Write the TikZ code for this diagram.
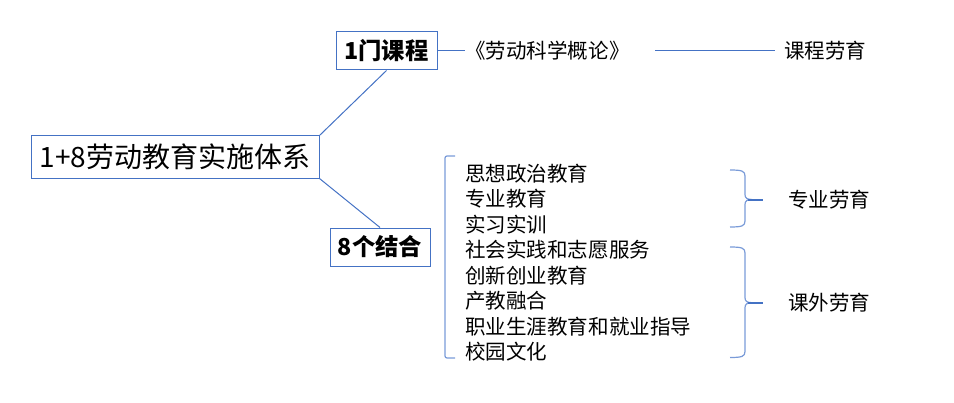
\documentclass[tikz,border=0pt]{standalone}
\usepackage{fontspec}
\setmainfont{Noto Sans CJK SC}
\definecolor{boxblue}{HTML}{4472C4}
\definecolor{braceblue}{HTML}{7A9BD8}
\tikzset{
  box/.style={draw=boxblue, line width=0.75pt, inner sep=0pt},
  link/.style={draw=boxblue, line width=0.75pt},
  bracket/.style={draw=braceblue, line width=0.9pt},
  plain/.style={inner sep=0pt, font=\fontsize{15.4pt}{18pt}\selectfont}
}
\begin{document}
\begin{tikzpicture}[x=0.75pt, y=-0.75pt]
  \useasboundingbox (0,0) rectangle (954,403);
  % boxes
  \node [box, minimum width=216pt, minimum height=31.5pt, font=\fontsize{21pt}{24pt}\selectfont] (sys) at (175,157) {1+8劳动教育实施体系};
  \node [box, minimum width=75.75pt, minimum height=28.5pt, font=\fontsize{17.5pt}{20pt}\selectfont\bfseries] (course) at (386.5,51) {1门课程};
  \node [box, minimum width=75pt, minimum height=28.5pt, font=\fontsize{17.5pt}{20pt}\selectfont\bfseries] (combine) at (380,247) {8个结合};
  % top branch
  \node [plain, anchor=west] (book) at (465,51) {《劳动科学概论》};
  \node [plain, anchor=west] (coursetag) at (784,51) {课程劳育};
  \draw [link] (sys.north east) -- (course.south);
  \draw [link] (sys.south east) -- (combine.north);
  \draw [link] (course.east) -- (book.west);
  \draw [link, shorten <=19pt, shorten >=6.75pt] (book.east) -- (coursetag.west);
  % list of items
  \foreach \txt [count=\i] in {思想政治教育,专业教育,实习实训,社会实践和志愿服务,创新创业教育,产教融合,职业生涯教育和就业指导,校园文化} {
    \node [plain, anchor=west] (item\i) at (465,{173.3+25.5*(\i-1)}) {\txt};
  };
  % left bracket
  \draw [bracket, rounded corners=1.5pt] (455,156) -- (445,156) -- (445,358) -- (455,358);
  % right braces
  \foreach \t/\m/\b/\name in {170/199.5/227/专业劳育, 247/302.7/357.5/课外劳育} {
    \draw [bracket] (730,\t) .. controls (742,\t) and (745,\t+1) .. (745,\t+6) -- (745,\m-5)
      .. controls (745,\m-1.5) and (747,\m) .. (752,\m)
      .. controls (747,\m) and (745,\m+1.5) .. (745,\m+5) -- (745,\b-6)
      .. controls (745,\b-1) and (742,\b) .. (730,\b);
    \draw [link, line width=1.5pt, draw=boxblue] (748,\m) -- (763,\m);
    \node [plain, anchor=west] at (788,\m) {\name};
  };
\end{tikzpicture}
\end{document}
